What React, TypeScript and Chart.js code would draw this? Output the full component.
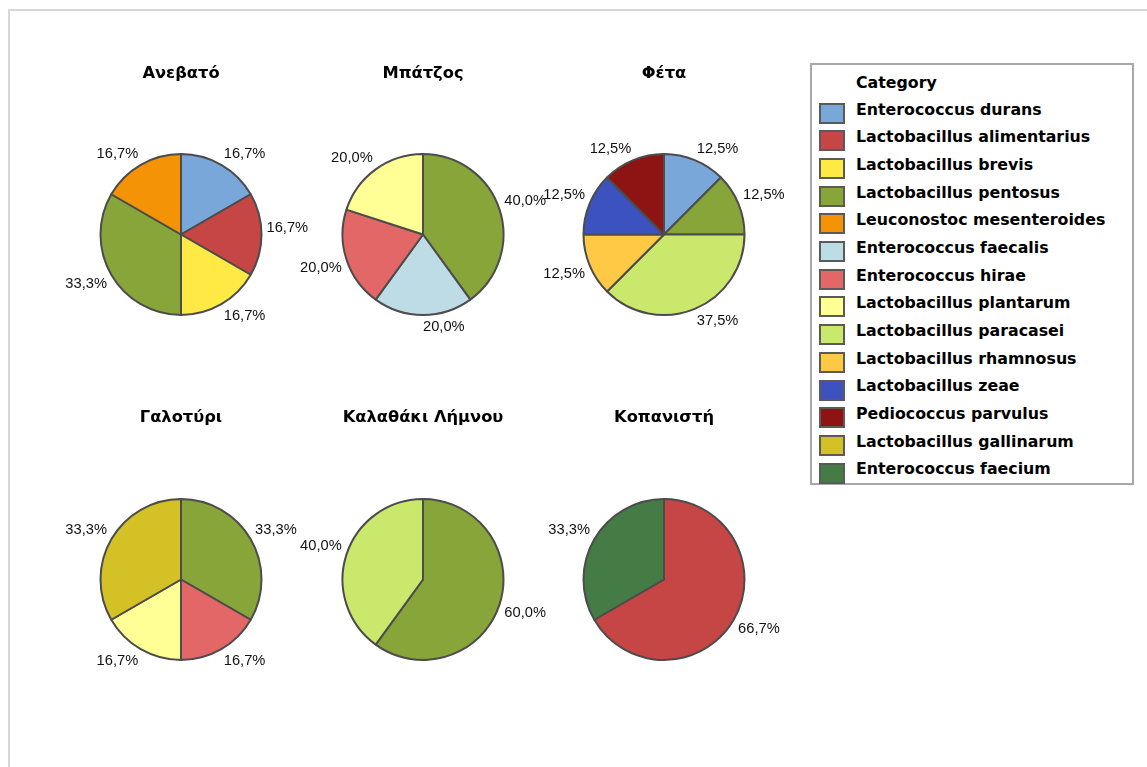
import React, { useEffect, useRef } from 'react';
import { Chart, registerables } from 'chart.js';

Chart.register(...registerables);

// Species shown in the legend, in legend order, with their fill colours
const speciesNames = [
  'Enterococcus durans',
  'Lactobacillus alimentarius',
  'Lactobacillus brevis',
  'Lactobacillus pentosus',
  'Leuconostoc mesenteroides',
  'Enterococcus faecalis',
  'Enterococcus hirae',
  'Lactobacillus plantarum',
  'Lactobacillus paracasei',
  'Lactobacillus rhamnosus',
  'Lactobacillus zeae',
  'Pediococcus parvulus',
  'Lactobacillus gallinarum',
  'Enterococcus faecium',
];
const speciesColors = [
  '#7AA7D9',
  '#C64545',
  '#FFE945',
  '#88A53A',
  '#F39305',
  '#BEDCE6',
  '#E46767',
  '#FFFF96',
  '#CAE86B',
  '#FFC845',
  '#3B52BF',
  '#8E1313',
  '#D3C125',
  '#457B44',
];

// Isolates per cheese (counts of strains per species)
const anevatoSpecies = ['Enterococcus durans', 'Lactobacillus alimentarius', 'Lactobacillus brevis', 'Lactobacillus pentosus', 'Leuconostoc mesenteroides'];
const anevatoCounts = [1, 1, 1, 2, 1];

const batzosSpecies = ['Lactobacillus pentosus', 'Enterococcus faecalis', 'Enterococcus hirae', 'Lactobacillus plantarum'];
const batzosCounts = [2, 1, 1, 1];

const fetaSpecies = ['Enterococcus durans', 'Lactobacillus pentosus', 'Lactobacillus paracasei', 'Lactobacillus rhamnosus', 'Lactobacillus zeae', 'Pediococcus parvulus'];
const fetaCounts = [1, 1, 3, 1, 1, 1];

const galotyriSpecies = ['Lactobacillus pentosus', 'Enterococcus hirae', 'Lactobacillus plantarum', 'Lactobacillus gallinarum'];
const galotyriCounts = [2, 1, 1, 2];

const kalathakiSpecies = ['Lactobacillus pentosus', 'Lactobacillus paracasei'];
const kalathakiCounts = [3, 2];

const kopanistiSpecies = ['Lactobacillus alimentarius', 'Enterococcus faecium'];
const kopanistiCounts = [2, 1];

const cheeseTitles = ['Ανεβατό', 'Μπάτζος', 'Φέτα', 'Γαλοτύρι', 'Καλαθάκι Λήμνου', 'Κοπανιστή'];
const cheeseSpecies = [anevatoSpecies, batzosSpecies, fetaSpecies, galotyriSpecies, kalathakiSpecies, kopanistiSpecies];
const cheeseCounts = [anevatoCounts, batzosCounts, fetaCounts, galotyriCounts, kalathakiCounts, kopanistiCounts];

const legendTitle = 'Category';

// Grid placement of the small multiples
const columnCenters = [181, 423, 664];
const rowCenters = [234.5, 579.5];
const rowTitleY = [74, 418];
const PIE_RADIUS = 80.5;
const CANVAS_W = 330;
const TITLE_LINE = 20;
const TITLE_SIZE = 16.3;

const colorOf = (name: string) => speciesColors[speciesNames.indexOf(name)];
const formatPercent = (count: number, total: number) =>
  (count / total * 100).toFixed(1).replace('.', ',') + '%';

// Percent labels placed just outside each slice, with the label's nearest corner at the anchor
const outsideLabels = {
  id: 'outsideLabels',
  afterDatasetsDraw(chart: any) {
    const ctx = chart.ctx as CanvasRenderingContext2D;
    const ds = chart.data.datasets[0];
    const values = ds.data as number[];
    const total = values.reduce((a, b) => a + b, 0);
    const meta = chart.getDatasetMeta(0);
    ctx.save();
    ctx.font = '14.7px "Liberation Sans", Arial, sans-serif';
    ctx.fillStyle = '#111111';
    ctx.textAlign = 'center';
    ctx.textBaseline = 'middle';
    meta.data.forEach((arc: any, i: number) => {
      const p = arc.getProps(['x', 'y', 'startAngle', 'endAngle', 'outerRadius'], true);
      const mid = (p.startAngle + p.endAngle) / 2;
      const dx = Math.cos(mid);
      const dy = Math.sin(mid);
      const d = p.outerRadius + 5;
      const text = formatPercent(values[i], total);
      const hw = ctx.measureText(text).width / 2;
      const hh = 7;
      const sx = dx > -1e-6 ? 1 : -1;
      const sy = dy > 1e-6 ? 1 : -1;
      ctx.fillText(text, p.x + dx * d + sx * hw, p.y + dy * d + sy * hh);
    });
    ctx.restore();
  },
};

function CheesePie({ index }: { index: number }) {
  const ref = useRef<HTMLCanvasElement | null>(null);
  const row = Math.floor(index / 3);
  const col = index % 3;
  const cx = columnCenters[col];
  const cy = rowCenters[row];
  const top = rowTitleY[row] - TITLE_LINE / 2;
  const height = Math.round(2 * cy - 2 * top - TITLE_LINE);

  useEffect(() => {
    if (!ref.current) return;
    const species = cheeseSpecies[index];
    const chart = new Chart(ref.current, {
      type: 'pie',
      data: {
        labels: species,
        datasets: [
          {
            data: cheeseCounts[index],
            backgroundColor: species.map(colorOf),
            borderColor: '#4c4c4c',
            borderWidth: 2,
            radius: PIE_RADIUS,
          } as any,
        ],
      },
      options: {
        responsive: false,
        animation: false,
        devicePixelRatio: 1,
        events: [],
        layout: { padding: 0 },
        plugins: {
          legend: { display: false },
          tooltip: { enabled: false },
          title: {
            display: true,
            text: cheeseTitles[index],
            color: '#000000',
            padding: 0,
            font: { family: '"DejaVu Sans", sans-serif', size: TITLE_SIZE, weight: 'bold', lineHeight: TITLE_LINE / TITLE_SIZE },
          },
        },
      },
      plugins: [outsideLabels],
    });
    return () => chart.destroy();
  }, [index]);

  return (
    <canvas
      ref={ref}
      width={CANVAS_W}
      height={height}
      style={{ position: 'absolute', left: cx - CANVAS_W / 2, top, width: CANVAS_W, height }}
    />
  );
}

function Legend() {
  const boxLeft = 810;
  const boxTop = 63;
  const textLeft = 854;
  const firstCenter = 107.3;
  const step = 27.67;
  const fontSize = 15.8;
  const lineH = 20;
  const capOffset = 9.8;
  const textStyle: React.CSSProperties = {
    position: 'absolute',
    left: textLeft - boxLeft,
    fontFamily: '"DejaVu Sans", sans-serif',
    fontWeight: 'bold',
    fontSize,
    lineHeight: lineH + 'px',
    color: '#000',
    whiteSpace: 'nowrap',
  };
  return (
    <div
      style={{
        position: 'absolute',
        left: boxLeft,
        top: boxTop,
        width: 324,
        height: 422,
        boxSizing: 'border-box',
        border: '2px solid #a8a8a8',
        background: '#fff',
      }}
    >
      <div style={{ ...textStyle, top: 80.5 - capOffset - boxTop }}>{legendTitle}</div>
      {speciesNames.map((name, i) => {
        const c = firstCenter + step * i;
        return (
          <React.Fragment key={name}>
            <div
              style={{
                position: 'absolute',
                left: 817 - boxLeft,
                top: c - 6.5 - boxTop,
                width: 26,
                height: 21,
                boxSizing: 'border-box',
                background: speciesColors[i],
                border: '2px solid #5a5a5a',
              }}
            />
            <div style={{ ...textStyle, top: c - capOffset - boxTop }}>{name}</div>
          </React.Fragment>
        );
      })}
    </div>
  );
}

export default function App() {
  return (
    <div
      style={{
        position: 'fixed',
        left: 0,
        top: 0,
        width: 1147,
        height: 767,
        overflow: 'hidden',
        background: '#ffffff',
      }}
    >
      <div
        style={{
          position: 'absolute',
          left: 7.5,
          top: 9,
          width: 1300,
          height: 900,
          borderLeft: '2px solid #d6d6d6',
          borderTop: '2px solid #d6d6d6',
        }}
      />
      {cheeseTitles.map((t, i) => (
        <CheesePie key={t} index={i} />
      ))}
      <Legend />
    </div>
  );
}
